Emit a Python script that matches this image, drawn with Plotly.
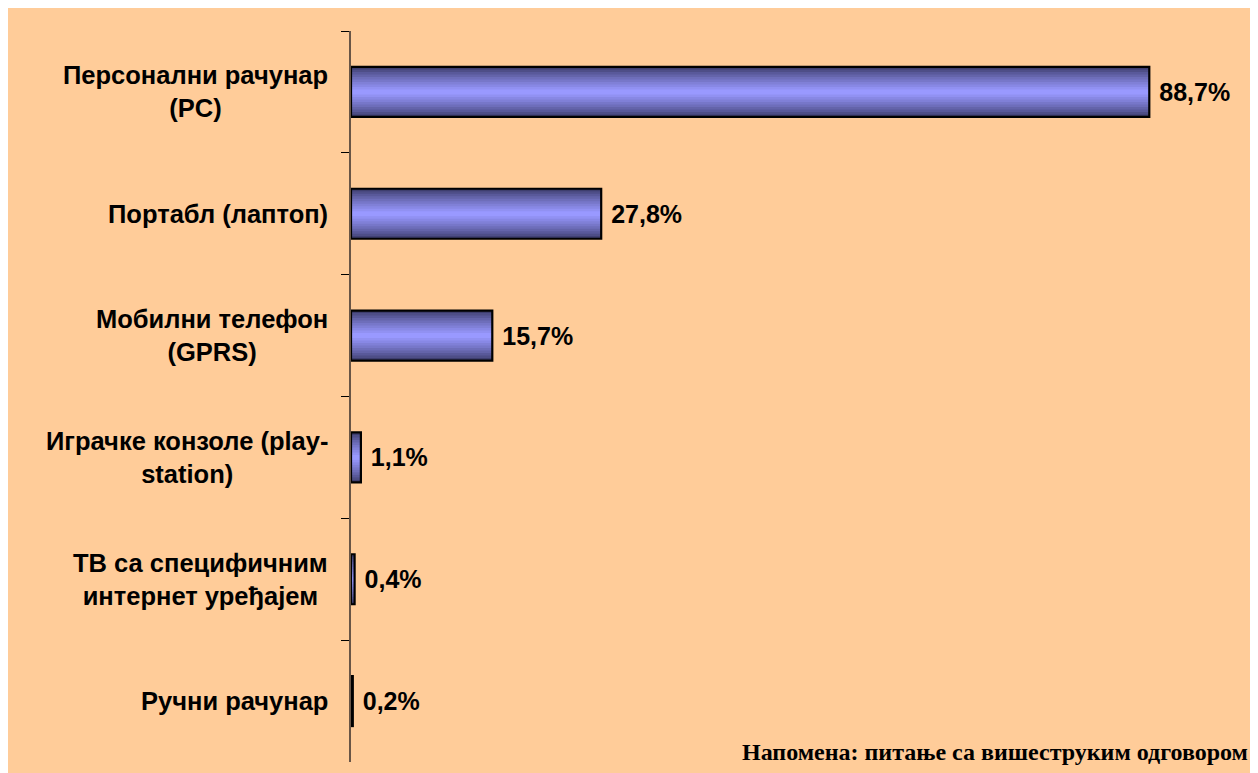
import plotly.graph_objects as go

categories = [
    "Персонални рачунар<br>(PC)",
    "Портабл (лаптоп)",
    "Мобилни телефон<br>(GPRS)",
    "Играчке конзоле (play-<br>station)",
    "ТВ са специфичним<br>интернет уређајем",
    "Ручни рачунар",
]
values = [88.7, 27.8, 15.7, 1.1, 0.4, 0.2]
note_text = "Напомена: питање са вишеструким одговором"

# style
PEACH = "#FFCC99"
BAR_W = 0.41
edge = (62, 62, 110)
center = (153, 153, 255)
n_layers = 10

fig = go.Figure()
for i in range(n_layers):
    t = i / (n_layers - 1)
    w = BAR_W * (1 - 0.9 * t)
    f = t ** 0.8
    col = "rgb(%d,%d,%d)" % tuple(round(e + (c - e) * f) for e, c in zip(edge, center))
    fig.add_trace(go.Bar(
        x=values, y=categories, orientation="h", width=w,
        marker=dict(color=col, line=dict(width=0)),
        hoverinfo="skip", showlegend=False,
    ))

fig.add_trace(go.Bar(
    x=values, y=categories, orientation="h", width=BAR_W,
    marker=dict(color="rgba(0,0,0,0)", line=dict(color="black", width=2.2)),
    texttemplate=" %{x:.1f}%", textposition="outside",
    textfont=dict(family="Arial, Liberation Sans", size=25, color="black", weight="bold"),
    cliponaxis=False, showlegend=False,
))

W, H = 1250, 765
L, R, T, B = 343, 7, 23, 11
pw = W - L - R
ph = H - T - B

fig.update_layout(
    width=W, height=H,
    margin=dict(l=L, r=R, t=T, b=B, pad=0),
    barmode="overlay",
    paper_bgcolor=PEACH,
    plot_bgcolor=PEACH,
    separators=", ",
    font=dict(family="Arial, Liberation Sans", color="black"),
    xaxis=dict(range=[0, 100], visible=False, fixedrange=True),
    yaxis=dict(
        categoryorder="array", categoryarray=categories,
        autorange="reversed",
        showticklabels=False,
        showline=True, linecolor="rgb(105,85,70)", linewidth=2,
        ticks="outside", tickson="boundaries", ticklen=8,
        tickcolor="black", tickwidth=1.2,
        showgrid=False, zeroline=False,
    ),
)

for c in categories:
    fig.add_annotation(
        xref="paper", yref="y", x=0, y=c, xshift=-21,
        xanchor="right", yanchor="middle", align="center",
        text="<b>%s</b>" % c, showarrow=False,
        font=dict(family="Arial, Liberation Sans", size=25.5, color="black"),
    )

fig.add_annotation(
    xref="paper", yref="paper", x=(1242 - L) / pw, y=(H - B - 744) / ph,
    xanchor="right", yanchor="middle",
    text="<b>%s</b>" % note_text, showarrow=False,
    font=dict(family="Liberation Serif, Times New Roman", size=24, color="black"),
)

fig.write_html("out.html")
